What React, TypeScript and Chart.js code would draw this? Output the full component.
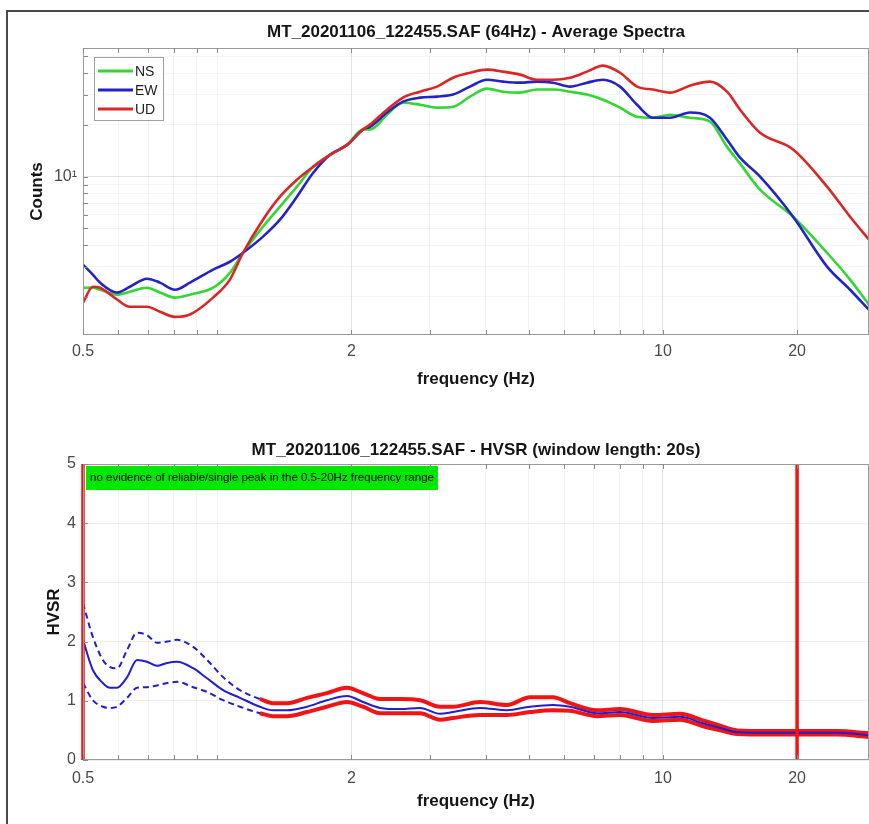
import React, { useEffect, useRef } from "react";
import { Chart, registerables } from "chart.js";

Chart.register(...registerables);

const FONT = '"Liberation Sans", Arial, Helvetica, sans-serif';

// ---- text ----
const spectraTitle = "MT_20201106_122455.SAF (64Hz) - Average Spectra";
const hvsrTitle = "MT_20201106_122455.SAF - HVSR (window length: 20s)";
const noteText = "no evidence of reliable/single peak in the 0.5-20Hz frequency range";
const xAxisTitle = "frequency (Hz)";
const spectraYTitle = "Counts";
const hvsrYTitle = "HVSR";

// ---- ticks ----
const xTickValues = [0.5, 0.6, 0.7, 0.8, 0.9, 1, 2, 3, 4, 5, 6, 7, 8, 9, 10, 20];
const xLabelValues = [0.5, 2, 10, 20];
const xLabelTexts = ["0.5", "2", "10", "20"];
const spectraYTickValues = [2, 3, 4, 5, 6, 7, 8, 9, 10, 20, 30, 40, 50];
const spectraYLabelValues = [10];
const spectraYLabelTexts = ["10\u00B9"];

// ---- average spectra ----
const specFreq = [0.5, 0.526, 0.546, 0.596, 0.637, 0.696, 0.744, 0.804, 0.869, 0.979, 1.068, 1.143, 1.267, 1.383, 1.51, 1.641, 1.791, 1.956, 2.124, 2.203, 2.405, 2.612, 2.852, 3.114, 3.382, 3.692, 4.031, 4.378, 4.78, 5.219, 5.668, 6.189, 6.757, 7.339, 8.013, 8.749, 9.503, 10.375, 11.5, 12.75, 13.93, 14.9, 16.52, 19.59, 23.35, 26.3, 29.0];
const nsCounts = [2.26, 2.26, 2.2, 2.06, 2.14, 2.26, 2.12, 1.98, 2.06, 2.26, 2.76, 3.61, 5.12, 6.69, 8.75, 11.4, 13.4, 15.3, 18.8, 18.8, 22.9, 26.9, 26.2, 25.2, 25.5, 29.2, 32.5, 31.2, 30.8, 32.1, 32.1, 31.2, 30.0, 28.0, 25.2, 22.3, 22.0, 22.9, 22.0, 20.9, 14.9, 11.9, 8.4, 5.85, 3.61, 2.52, 1.8];
const ewCounts = [3.08, 2.69, 2.42, 2.12, 2.29, 2.55, 2.42, 2.2, 2.42, 2.88, 3.2, 3.61, 4.48, 5.62, 7.65, 10.5, 13.4, 15.3, 18.8, 19.5, 23.6, 27.3, 28.8, 29.2, 30.0, 33.4, 36.6, 35.7, 35.2, 35.7, 35.2, 33.4, 35.2, 36.6, 33.4, 26.2, 22.0, 22.0, 23.6, 22.0, 16.4, 12.9, 10.0, 5.85, 3.0, 2.2, 1.68];
const udCounts = [1.85, 2.29, 2.26, 1.93, 1.75, 1.75, 1.64, 1.53, 1.58, 1.98, 2.52, 3.61, 5.62, 7.65, 9.6, 11.4, 13.4, 15.3, 18.8, 20.1, 24.5, 28.8, 31.2, 33.4, 37.6, 40.2, 41.9, 40.8, 39.2, 36.6, 36.6, 37.6, 40.8, 44.2, 40.2, 33.4, 32.1, 30.8, 33.8, 35.7, 31.2, 24.5, 18.0, 14.4, 8.75, 5.85, 4.3];
const seriesNames = ["NS", "EW", "UD"];
const seriesColors = ["#33d633", "#2323c8", "#dc2626"];

// ---- HVSR ----
const hvFreq = [0.5, 0.526, 0.554, 0.575, 0.596, 0.628, 0.661, 0.696, 0.733, 0.772, 0.813, 0.883, 0.949, 1.031, 1.125, 1.247, 1.334, 1.435, 1.591, 1.763, 1.956, 2.124, 2.319, 2.572, 2.852, 3.162, 3.382, 3.888, 4.47, 5.034, 5.668, 6.189, 7.115, 8.013, 9.503, 10.93, 12.3, 13.44, 14.67, 17.39, 20.0, 24.58, 29.0];
const hvMean = [2.03, 1.52, 1.3, 1.22, 1.22, 1.4, 1.69, 1.66, 1.59, 1.64, 1.66, 1.55, 1.38, 1.18, 1.05, 0.9, 0.84, 0.84, 0.9, 1.01, 1.08, 0.98, 0.88, 0.86, 0.88, 0.78, 0.81, 0.88, 0.84, 0.9, 0.93, 0.9, 0.79, 0.81, 0.71, 0.73, 0.62, 0.54, 0.47, 0.46, 0.46, 0.46, 0.42];
const hvUpper = [2.65, 2.08, 1.69, 1.57, 1.55, 1.86, 2.15, 2.11, 1.98, 2.0, 2.03, 1.91, 1.69, 1.4, 1.18, 1.03, 0.96, 0.96, 1.05, 1.13, 1.22, 1.13, 1.03, 1.03, 1.01, 0.9, 0.9, 0.98, 0.93, 1.06, 1.06, 0.96, 0.84, 0.86, 0.76, 0.78, 0.67, 0.58, 0.5, 0.49, 0.49, 0.49, 0.45];
const hvLower = [1.3, 1.01, 0.9, 0.88, 0.9, 1.05, 1.22, 1.23, 1.26, 1.3, 1.32, 1.23, 1.15, 1.01, 0.9, 0.79, 0.74, 0.74, 0.81, 0.9, 0.98, 0.9, 0.79, 0.79, 0.79, 0.68, 0.71, 0.76, 0.76, 0.81, 0.84, 0.83, 0.74, 0.76, 0.66, 0.68, 0.57, 0.5, 0.44, 0.43, 0.43, 0.43, 0.39];
const redBandStart = 1.2;
const rangeLimits = [0.5, 20];

const pts = (xs: number[], ys: (number | null)[]) => xs.map((x, i) => ({ x, y: ys[i] }));

const xLabel = (v: number) => {
  const i = xLabelValues.indexOf(v);
  return i >= 0 ? xLabelTexts[i] : "";
};

const gridColorX = (c: any) =>
  c.tick && xLabelValues.indexOf(c.tick.value) >= 0 ? "rgba(0,0,0,0.11)" : "rgba(0,0,0,0.045)";

const axesBoxPlugin = {
  id: "axesBox",
  afterDatasetsDraw(chart: any) {
    const { ctx, chartArea: a, scales } = chart;
    ctx.save();
    ctx.strokeStyle = "#9a9a9a";
    ctx.lineWidth = 1;
    ctx.strokeRect(a.left + 0.5, a.top + 0.5, a.right - a.left - 1, a.bottom - a.top - 1);
    ctx.strokeStyle = "#8a8a8a";
    ctx.beginPath();
    scales.x.ticks.forEach((t: any) => {
      const px = Math.round(scales.x.getPixelForValue(t.value)) + 0.5;
      ctx.moveTo(px, a.bottom);
      ctx.lineTo(px, a.bottom - 5);
      ctx.moveTo(px, a.top);
      ctx.lineTo(px, a.top + 5);
    });
    scales.y.ticks.forEach((t: any) => {
      const py = Math.round(scales.y.getPixelForValue(t.value)) + 0.5;
      ctx.moveTo(a.left, py);
      ctx.lineTo(a.left + 5, py);
    });
    ctx.stroke();
    ctx.restore();
  },
};

const makeTitlePlugin = (text: string, y: number) => ({
  id: "plotTitle",
  afterDraw(chart: any) {
    const { ctx, chartArea: a } = chart;
    ctx.save();
    ctx.font = `bold 17px ${FONT}`;
    ctx.fillStyle = "#151515";
    ctx.textAlign = "center";
    ctx.textBaseline = "middle";
    ctx.fillText(text, (a.left + a.right) / 2, y);
    ctx.restore();
  },
});

const legendPlugin = {
  id: "boxLegend",
  afterDraw(chart: any) {
    const { ctx, chartArea: a } = chart;
    const bx = a.left + 11;
    const by = a.top + 9;
    ctx.save();
    ctx.fillStyle = "#ffffff";
    ctx.fillRect(bx, by, 69, 63);
    ctx.strokeStyle = "#a0a0a0";
    ctx.lineWidth = 1;
    ctx.strokeRect(bx + 0.5, by + 0.5, 69, 63);
    ctx.font = `14px ${FONT}`;
    ctx.textBaseline = "middle";
    ctx.textAlign = "left";
    chart.data.datasets.forEach((d: any, i: number) => {
      const y = by + 14 + i * 19;
      ctx.strokeStyle = d.borderColor;
      ctx.lineWidth = 3;
      ctx.beginPath();
      ctx.moveTo(bx + 4, y);
      ctx.lineTo(bx + 39, y);
      ctx.stroke();
      ctx.fillStyle = "#222";
      ctx.fillText(d.label, bx + 41, y + 1);
    });
    ctx.restore();
  },
};

const notePlugin = {
  id: "noteBox",
  afterDraw(chart: any) {
    const { ctx, chartArea: a } = chart;
    ctx.save();
    ctx.font = `11.5px ${FONT}`;
    const w = ctx.measureText(noteText).width + 8;
    ctx.fillStyle = "#00e800";
    ctx.fillRect(a.left + 3, a.top + 2, w, 24);
    ctx.fillStyle = "#000";
    ctx.textBaseline = "middle";
    ctx.fillText(noteText, a.left + 7, a.top + 14);
    ctx.restore();
  },
};

function xScale(height: number, tickPad: number, titlePadBottom: number) {
  return {
    type: "logarithmic",
    min: 0.5,
    max: 29,
    afterBuildTicks: (s: any) => {
      s.ticks = xTickValues.map((v) => ({ value: v }));
    },
    afterFit: (s: any) => {
      s.height = height;
    },
    ticks: {
      autoSkip: false,
      maxRotation: 0,
      minRotation: 0,
      padding: tickPad,
      color: "#4a4a4a",
      font: { size: 16, family: FONT },
      callback: (v: any) => xLabel(Number(v)),
    },
    grid: { color: gridColorX, drawTicks: false, lineWidth: 1 },
    border: { display: false },
    title: {
      display: true,
      text: xAxisTitle,
      color: "#151515",
      font: { size: 17, weight: "bold", family: FONT },
      padding: { top: 0, bottom: titlePadBottom },
    },
  };
}

export default function App() {
  const topRef = useRef<HTMLCanvasElement>(null);
  const botRef = useRef<HTMLCanvasElement>(null);

  useEffect(() => {
    Chart.defaults.font.family = FONT;
    const common = {
      animation: false,
      responsive: false,
      devicePixelRatio: 1,
      events: [],
      elements: { point: { radius: 0 } },
    };

    const spectra = [nsCounts, ewCounts, udCounts];
    const top = new Chart(topRef.current as HTMLCanvasElement, {
      type: "line",
      data: {
        datasets: spectra.map((vals, i) => ({
          label: seriesNames[i],
          data: pts(specFreq, vals),
          borderColor: seriesColors[i],
          borderWidth: 2.6,
          pointRadius: 0,
          fill: false,
          cubicInterpolationMode: "monotone",
          order: 3 - i,
        })),
      },
      options: {
        ...common,
        layout: { padding: { top: 48, left: 0, right: 0, bottom: 0 } },
        plugins: { legend: { display: false }, tooltip: { enabled: false }, title: { display: false } },
        scales: {
          x: xScale(65, 7, 10),
          y: {
            type: "logarithmic",
            min: 1.2,
            max: 56,
            afterBuildTicks: (s: any) => {
              s.ticks = spectraYTickValues.map((v) => ({ value: v }));
            },
            afterFit: (s: any) => {
              s.width = 83;
            },
            ticks: {
              autoSkip: false,
              padding: 6,
              color: "#4a4a4a",
              font: { size: 16, family: FONT },
              callback: (v: any) => {
                const i = spectraYLabelValues.indexOf(Number(v));
                return i >= 0 ? spectraYLabelTexts[i] : "";
              },
            },
            grid: {
              color: (c: any) =>
                c.tick && spectraYLabelValues.indexOf(c.tick.value) >= 0 ? "rgba(0,0,0,0.11)" : "rgba(0,0,0,0.04)",
              drawTicks: false,
            },
            border: { display: false },
            title: {
              display: true,
              text: spectraYTitle,
              color: "#151515",
              font: { size: 17, weight: "bold", family: FONT },
              padding: { top: 27, bottom: 0 },
            },
          },
        },
      },
      plugins: [axesBoxPlugin, makeTitlePlugin(spectraTitle, 32), legendPlugin],
    } as any);

    const redUpper = hvFreq.map((f, i) => (f >= redBandStart ? hvUpper[i] : null));
    const redLower = hvFreq.map((f, i) => (f >= redBandStart ? hvLower[i] : null));
    const blue = "#1e1ed2";
    const red = "#f01414";

    const bot = new Chart(botRef.current as HTMLCanvasElement, {
      type: "line",
      data: {
        datasets: [
          ...rangeLimits.map((f) => ({
            label: "limit",
            data: [
              { x: f, y: 0 },
              { x: f, y: 5 },
            ],
            borderColor: red,
            borderWidth: 3.5,
            pointRadius: 0,
            clip: false,
            order: 0,
          })),
          {
            label: "mean",
            data: pts(hvFreq, hvMean),
            borderColor: blue,
            borderWidth: 2,
            pointRadius: 0,
            cubicInterpolationMode: "monotone",
            order: 2,
          },
          {
            label: "redUpper",
            data: pts(hvFreq, redUpper),
            borderColor: red,
            borderWidth: 4,
            pointRadius: 0,
            cubicInterpolationMode: "monotone",
            order: 3,
          },
          {
            label: "redLower",
            data: pts(hvFreq, redLower),
            borderColor: red,
            borderWidth: 4,
            pointRadius: 0,
            cubicInterpolationMode: "monotone",
            order: 3,
          },
          {
            label: "upper",
            data: pts(hvFreq, hvUpper),
            borderColor: blue,
            borderWidth: 2,
            borderDash: [6, 4],
            pointRadius: 0,
            cubicInterpolationMode: "monotone",
            order: 4,
          },
          {
            label: "lower",
            data: pts(hvFreq, hvLower),
            borderColor: blue,
            borderWidth: 2,
            borderDash: [6, 4],
            pointRadius: 0,
            cubicInterpolationMode: "monotone",
            order: 4,
          },
        ],
      },
      options: {
        ...common,
        layout: { padding: { top: 64, left: 0, right: 0, bottom: 0 } },
        plugins: { legend: { display: false }, tooltip: { enabled: false }, title: { display: false } },
        scales: {
          x: xScale(64, 9, 12),
          y: {
            type: "linear",
            min: 0,
            max: 5,
            afterFit: (s: any) => {
              s.width = 83;
            },
            ticks: {
              stepSize: 1,
              padding: 7,
              color: "#4a4a4a",
              font: { size: 16, family: FONT },
            },
            grid: { color: "rgba(0,0,0,0.07)", drawTicks: false },
            border: { display: false },
            title: {
              display: true,
              text: hvsrYTitle,
              color: "#151515",
              font: { size: 17, weight: "bold", family: FONT },
              padding: { top: 44, bottom: 0 },
            },
          },
        },
      },
      plugins: [axesBoxPlugin, makeTitlePlugin(hvsrTitle, 50), notePlugin],
    } as any);

    return () => {
      top.destroy();
      bot.destroy();
    };
  }, []);

  return (
    <div
      style={{
        position: "fixed",
        left: 0,
        top: 0,
        width: 869,
        height: 824,
        overflow: "hidden",
        background: "#ffffff",
      }}
    >
      <div
        style={{
          position: "absolute",
          left: 6,
          top: 10,
          width: 2000,
          height: 2000,
          border: "2px solid #4a4a4a",
          boxSizing: "border-box",
        }}
      />
      <canvas
        ref={topRef}
        width={869}
        height={400}
        style={{ position: "absolute", left: 0, top: 0, width: 869, height: 400 }}
      />
      <canvas
        ref={botRef}
        width={869}
        height={424}
        style={{ position: "absolute", left: 0, top: 400, width: 869, height: 424 }}
      />
    </div>
  );
}
